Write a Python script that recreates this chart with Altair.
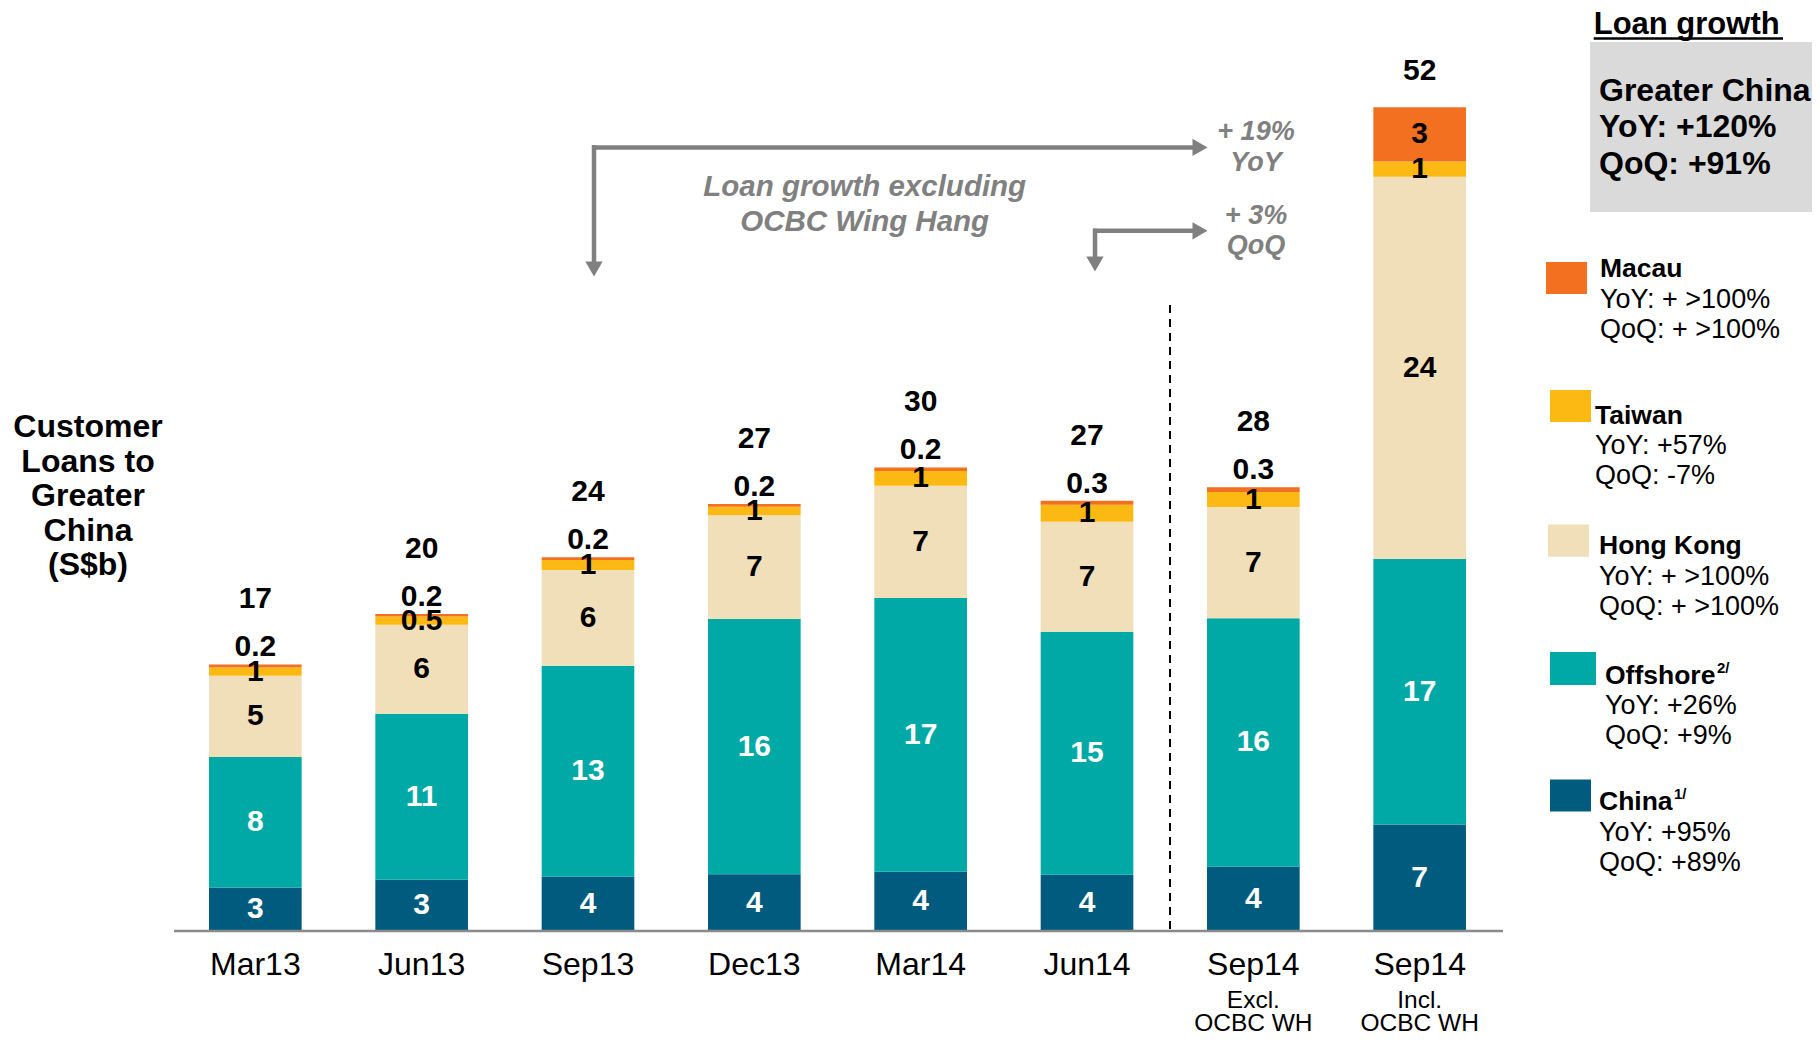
import altair as alt
import pandas as pd

FONT = "Liberation Sans"

# ---------------- data ----------------
categories = ["Mar13", "Jun13", "Sep13", "Dec13", "Mar14", "Jun14", "Sep14 Excl", "Sep14 Incl"]
axis_labels = ["Mar13", "Jun13", "Sep13", "Dec13", "Mar14", "Jun14", "Sep14", "Sep14"]
sub_label_1 = ["", "", "", "", "", "", "Excl.", "Incl."]
sub_label_2 = ["", "", "", "", "", "", "OCBC WH", "OCBC WH"]

segments = ["China", "Offshore", "Hong Kong", "Taiwan", "Macau"]
seg_colors = ["#005B7F", "#00A9A6", "#F0DFB8", "#FDB913", "#F37021"]
seg_label_colors = ["white", "white", "black", "black", "black"]

china = [2.75, 3.25, 3.45, 3.59, 3.75, 3.56, 4.09, 6.74]
offshore = [8.27, 10.5, 13.34, 16.16, 17.32, 15.38, 15.7, 16.8]
hong_kong = [5.13, 5.63, 6.06, 6.56, 7.11, 6.96, 7.04, 24.2]
taiwan = [0.53, 0.53, 0.63, 0.54, 0.93, 1.08, 0.95, 0.97]
macau = [0.19, 0.15, 0.17, 0.17, 0.23, 0.25, 0.30, 3.42]

china_lbl = ["3", "3", "4", "4", "4", "4", "4", "7"]
offshore_lbl = ["8", "11", "13", "16", "17", "15", "16", "17"]
hong_kong_lbl = ["5", "6", "6", "7", "7", "7", "7", "24"]
taiwan_lbl = ["1", "0.5", "1", "1", "1", "1", "1", "1"]
macau_lbl = ["0.2", "0.2", "0.2", "0.2", "0.2", "0.3", "0.3", "3"]
total_lbl = ["17", "20", "24", "27", "30", "27", "28", "52"]

legend_names = ["Macau", "Taiwan", "Hong Kong", "Offshore", "China"]
legend_sup = ["", "", "", "2/", "1/"]
legend_yoy = ["YoY: + >100%", "YoY: +57%", "YoY: + >100%", "YoY: +26%", "YoY: +95%"]
legend_qoq = ["QoQ: + >100%", "QoQ: -7%", "QoQ: + >100%", "QoQ: +9%", "QoQ: +89%"]
legend_colors = ["#F37021", "#FDB913", "#F0DFB8", "#00A9A6", "#005B7F"]

summary_lines = ["Greater China", "YoY: +120%", "QoQ: +91%"]
y_title_lines = ["Customer", "Loans to", "Greater", "China", "(S$b)"]

# ---------------- tables ----------------
series = [china, offshore, hong_kong, taiwan, macau]
labels = [china_lbl, offshore_lbl, hong_kong_lbl, taiwan_lbl, macau_lbl]
rows = []
for i, cat in enumerate(categories):
    base = 0.0
    for s, seg in enumerate(segments):
        v = series[s][i]
        above = (seg == "Macau" and v < 1)
        rows.append({
            "category": cat, "segment": seg, "start": base, "end": base + v,
            "mid": base + v / 2, "label": labels[s][i],
            "lcolor": seg_label_colors[s], "above": above,
        })
        base += v
bars_df = pd.DataFrame(rows)

tot_rows = []
for i, cat in enumerate(categories):
    tot = sum(series[s][i] for s in range(len(segments)))
    tot_rows.append({"category": cat, "total": tot, "label": total_lbl[i],
                     "above": macau[i] < 1, "axis": axis_labels[i],
                     "sub1": sub_label_1[i], "sub2": sub_label_2[i]})
tot_df = pd.DataFrame(tot_rows)

one = pd.DataFrame({"k": [0]})

X = alt.X("category:N", sort=categories, axis=None,
          scale=alt.Scale(paddingInner=0.443, paddingOuter=0))
YS = alt.Scale(domain=[0, 55], nice=False, zero=True)

layers = []

# bars
layers.append(
    alt.Chart(bars_df).mark_bar().encode(
        x=X,
        y=alt.Y("start:Q", scale=YS, axis=None),
        y2="end:Q",
        color=alt.Color("segment:N", scale=alt.Scale(domain=segments, range=seg_colors), legend=None),
    )
)

# baseline
layers.append(
    alt.Chart(one).mark_rule(color="#8A8A8A", strokeWidth=2.5).encode(
        x=alt.value(-35), x2=alt.value(1294), y=alt.value(869)
    )
)

LBL = 30
# segment labels inside
layers.append(
    alt.Chart(bars_df).transform_filter("!datum.above").mark_text(
        font=FONT, fontSize=LBL, fontWeight="bold", baseline="middle", align="center"
    ).encode(
        x=X, y=alt.Y("mid:Q", scale=YS, axis=None), text="label:N",
        color=alt.Color("lcolor:N", scale=None),
    )
)
# macau labels above bar
layers.append(
    alt.Chart(bars_df).transform_filter("datum.above").mark_text(
        font=FONT, fontSize=LBL, fontWeight="bold", baseline="middle", align="center", dy=-17, color="black"
    ).encode(x=X, y=alt.Y("end:Q", scale=YS, axis=None), text="label:N")
)
# totals
layers.append(
    alt.Chart(tot_df).transform_filter("datum.above").mark_text(
        font=FONT, fontSize=LBL, fontWeight="bold", baseline="middle", align="center", dy=-65, color="black"
    ).encode(x=X, y=alt.Y("total:Q", scale=YS, axis=None), text="label:N")
)
layers.append(
    alt.Chart(tot_df).transform_filter("!datum.above").mark_text(
        font=FONT, fontSize=LBL, fontWeight="bold", baseline="middle", align="center", dy=-36, color="black"
    ).encode(x=X, y=alt.Y("total:Q", scale=YS, axis=None), text="label:N")
)

# category labels
layers.append(
    alt.Chart(tot_df).mark_text(font=FONT, fontSize=32, baseline="middle", align="center", color="black").encode(
        x=X, y=alt.value(902.5), text="axis:N")
)
layers.append(
    alt.Chart(tot_df).mark_text(font=FONT, fontSize=24.5, baseline="middle", align="center", color="black").encode(
        x=X, y=alt.value(939), text="sub1:N")
)
layers.append(
    alt.Chart(tot_df).mark_text(font=FONT, fontSize=24.5, baseline="middle", align="center", color="black").encode(
        x=X, y=alt.value(962), text="sub2:N")
)

# dashed separator
layers.append(
    alt.Chart(one).mark_rule(color="black", strokeWidth=2, strokeDash=[8, 6]).encode(
        x=alt.value(961), y=alt.value(243), y2=alt.value(867)
    )
)


def txt(s, x, y, size, weight="normal", color="black", align="left", style="normal"):
    return alt.Chart(one).mark_text(
        text=s, font=FONT, fontSize=size, fontWeight=weight, color=color,
        align=align, baseline="middle", fontStyle=style
    ).encode(x=alt.value(x), y=alt.value(y))


GREY = "#808080"


def hrule(x1, x2, y):
    return alt.Chart(one).mark_rule(color=GREY, strokeWidth=4.5).encode(
        x=alt.value(x1), x2=alt.value(x2), y=alt.value(y))


def vrule(x, y1, y2):
    return alt.Chart(one).mark_rule(color=GREY, strokeWidth=4.5).encode(
        x=alt.value(x), y=alt.value(y1), y2=alt.value(y2))


def head(shape, x, y):
    return alt.Chart(one).mark_point(shape=shape, filled=True, size=300, color=GREY, opacity=1).encode(
        x=alt.value(x), y=alt.value(y))


layers += [
    hrule(383, 988, 85.4), vrule(385, 83.2, 205), head("triangle-right", 991, 85.4), head("triangle-down", 385, 207),
    hrule(884, 988, 168.8), vrule(886, 166.6, 200), head("triangle-right", 991, 168.8), head("triangle-down", 886, 202),
]

layers += [
    txt("+ 19%", 1047, 70, 27, "bold", GREY, "center", "italic"),
    txt("YoY", 1047, 100.5, 27, "bold", GREY, "center", "italic"),
    txt("+ 3%", 1047, 154, 27, "bold", GREY, "center", "italic"),
    txt("QoQ", 1047, 184, 27, "bold", GREY, "center", "italic"),
    txt("Loan growth excluding", 655.7, 125, 29.5, "bold", GREY, "center", "italic"),
    txt("OCBC Wing Hang", 655.7, 159.7, 29.5, "bold", GREY, "center", "italic"),
]

# left title
for k, line in enumerate(y_title_lines):
    layers.append(txt(line, -121, 365 + k * 34.5, 32, "bold", "black", "center"))

# Loan growth summary box
layers.append(txt("Loan growth", 1384.7, -37.5, 31, "bold", "black", "left"))
layers.append(alt.Chart(one).mark_rule(color="black", strokeWidth=2.5).encode(
    x=alt.value(1384.7), x2=alt.value(1574), y=alt.value(-23.5)))
layers.append(alt.Chart(one).mark_rect(color="#DADADA").encode(
    x=alt.value(1381), x2=alt.value(1615), y=alt.value(-20), y2=alt.value(150)))
for k, line in enumerate(summary_lines):
    layers.append(txt(line, 1390, 28.5 + k * 36.6, 32, "bold", "black", "left"))

# legend
sw_x = [(1337, 1378), (1341, 1382), (1339, 1380), (1341, 1387), (1341, 1382)]
sw_y = [(200, 232), (328, 360), (462.5, 494.7), (590, 623), (717.6, 749.4)]
tx_x = [1391, 1386, 1390, 1396, 1390]
tx_y = [207.4, 353.5, 484, 613.5, 740.4]
name_w = [82, 87, 130, 110, 73]
for k in range(len(legend_names)):
    layers.append(alt.Chart(one).mark_rect(color=legend_colors[k]).encode(
        x=alt.value(sw_x[k][0]), x2=alt.value(sw_x[k][1]), y=alt.value(sw_y[k][0]), y2=alt.value(sw_y[k][1])))
    layers.append(txt(legend_names[k], tx_x[k], tx_y[k], 26.5, "bold"))
    if legend_sup[k]:
        layers.append(txt(legend_sup[k], tx_x[k] + name_w[k] + 2, tx_y[k] - 8, 15, "bold"))
    layers.append(txt(legend_yoy[k], tx_x[k], tx_y[k] + 30.5, 27))
    layers.append(txt(legend_qoq[k], tx_x[k], tx_y[k] + 60.5, 27))

chart = alt.layer(*layers).properties(
    width=1257, height=869,
    padding={"left": 201, "top": 54, "right": 346, "bottom": 102},
    autosize=alt.AutoSizeParams(type="none"),
).configure_view(stroke=None)

chart.save("out.html", embed_options={"renderer": "svg", "actions": False})
